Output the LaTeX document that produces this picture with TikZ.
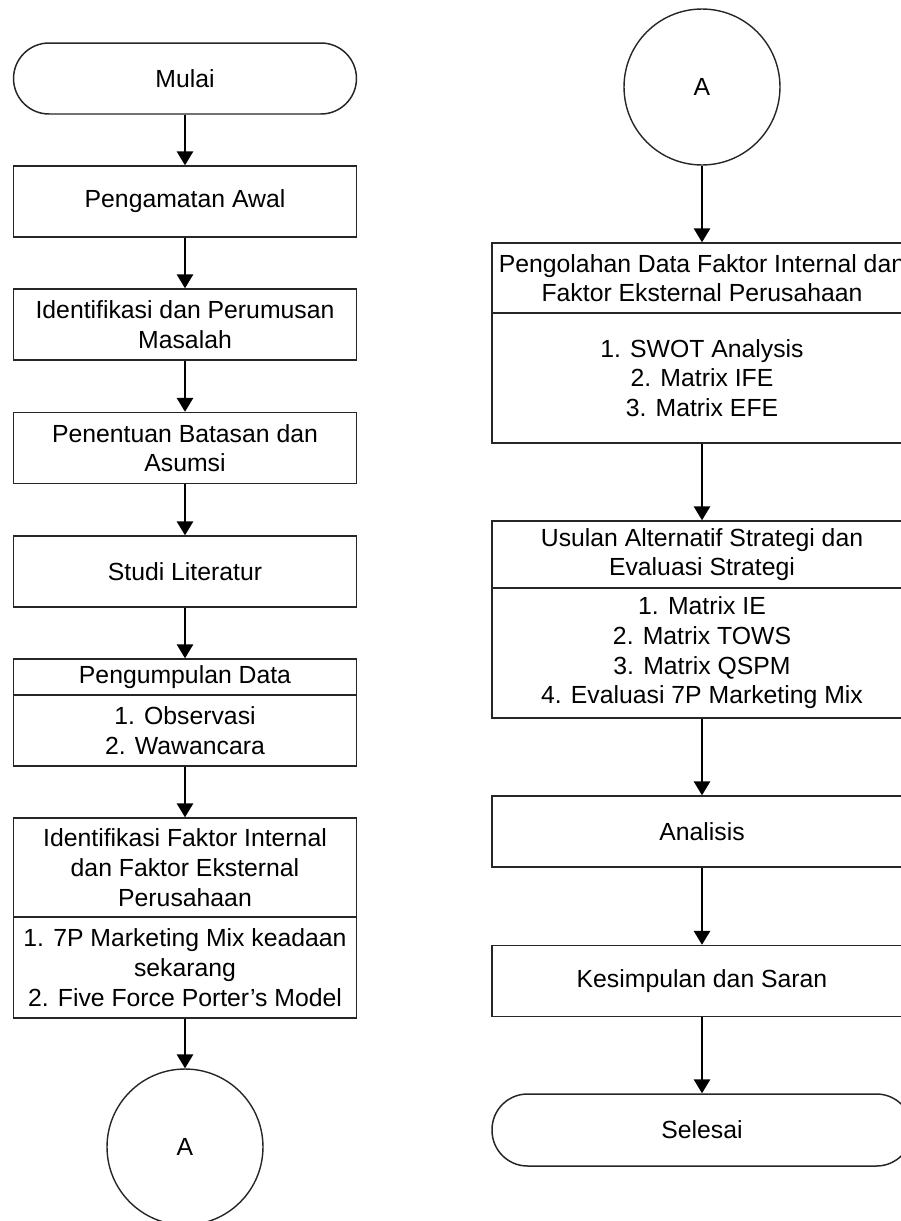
\documentclass[tikz,border=0pt]{standalone}
\usepackage{fontspec}
\setmainfont{Liberation Sans}
\usetikzlibrary{arrows.meta}
\tikzset{
	proses/.style={draw=black!85, line width=0.85pt, align=center, inner sep=0pt,
		font=\fontsize{14.1}{16.9}\selectfont},
	kiri/.style={proses, minimum width=6.86cm},
	kanan/.style={proses, minimum width=8.4cm},
	terminal/.style={rounded corners=0.71cm},
	konektor/.style={draw=black!85, circle, line width=0.8pt, minimum size=3.12cm,
		inner sep=0pt, font=\fontsize{14.1}{16.9}\selectfont},
	panah/.style={-{Triangle[length=0.28cm,width=0.33cm]}, line width=0.9pt}
}
\begin{document}
\begin{tikzpicture}[x=0.02cm, y=-0.02cm]
	\useasboundingbox (0,0) rectangle (901,1221);
	% Kolom kiri
	\node[kiri, terminal, minimum height=1.42cm] (mulai) at (185, 78.5) {Mulai};
	\node[kiri, minimum height=1.42cm] (awal) at (185, 201.5) {Pengamatan Awal};
	\node[kiri, minimum height=1.42cm] (masalah) at (185, 324.5) {Identifikasi dan Perumusan\\Masalah};
	\node[kiri, minimum height=1.42cm] (batasan) at (185, 448) {Penentuan Batasan dan\\Asumsi};
	\node[kiri, minimum height=1.42cm] (studi) at (185, 571.5) {Studi Literatur};
	% Pengumpulan Data
	\node[kiri, minimum height=0.72cm] (data) at (185, 677) {Pengumpulan Data};
	\node[kiri, minimum height=1.42cm] (dataisi) at (185, 730.5) {1. Observasi\\2. Wawancara};
	% Identifikasi Faktor
	\node[kiri, minimum height=1.98cm] (faktor) at (185, 867.5) {Identifikasi Faktor Internal\\dan Faktor Eksternal\\Perusahaan};
	\node[kiri, minimum height=2.02cm] (faktorisi) at (185, 967.5) {1. 7P Marketing Mix keadaan\\sekarang\\2. Five Force Porter's Model};
	\node[konektor] (akiri) at (185, 1147) {A};
	% Panah kiri
	\draw[panah] (mulai) -- (awal);
	\draw[panah] (awal) -- (masalah);
	\draw[panah] (masalah) -- (batasan);
	\draw[panah] (batasan) -- (studi);
	\draw[panah] (studi) -- (data);
	\draw[panah] (dataisi) -- (faktor);
	\draw[panah] (faktorisi) -- (akiri);
	% Kolom kanan
	\node[konektor] (akanan) at (702, 87) {A};
	% Pengolahan Data
	\node[kanan, minimum height=1.4cm] (olah) at (702, 278) {Pengolahan Data Faktor Internal dan\\Faktor Eksternal Perusahaan};
	\node[kanan, minimum height=2.6cm] (olahisi) at (702, 378) {1. SWOT Analysis\\2. Matrix IFE\\3. Matrix EFE};
	% Usulan Strategi
	\node[kanan, minimum height=1.34cm] (usulan) at (702, 554.5) {Usulan Alternatif Strategi dan\\Evaluasi Strategi};
	\node[kanan, minimum height=2.6cm] (usulanisi) at (702, 653) {1. Matrix IE\\2. Matrix TOWS\\3. Matrix QSPM\\4. Evaluasi 7P Marketing Mix};
	\node[kanan, minimum height=1.42cm] (analisis) at (702, 831.5) {Analisis};
	\node[kanan, minimum height=1.42cm] (simpul) at (702, 981) {Kesimpulan dan Saran};
	\node[kanan, terminal, minimum height=1.44cm] (selesai) at (702, 1130) {Selesai};
	% Panah kanan
	\draw[panah] (akanan) -- (olah);
	\draw[panah] (olahisi) -- (usulan);
	\draw[panah] (usulanisi) -- (analisis);
	\draw[panah] (analisis) -- (simpul);
	\draw[panah] (simpul) -- (selesai);
\end{tikzpicture}
\end{document}
